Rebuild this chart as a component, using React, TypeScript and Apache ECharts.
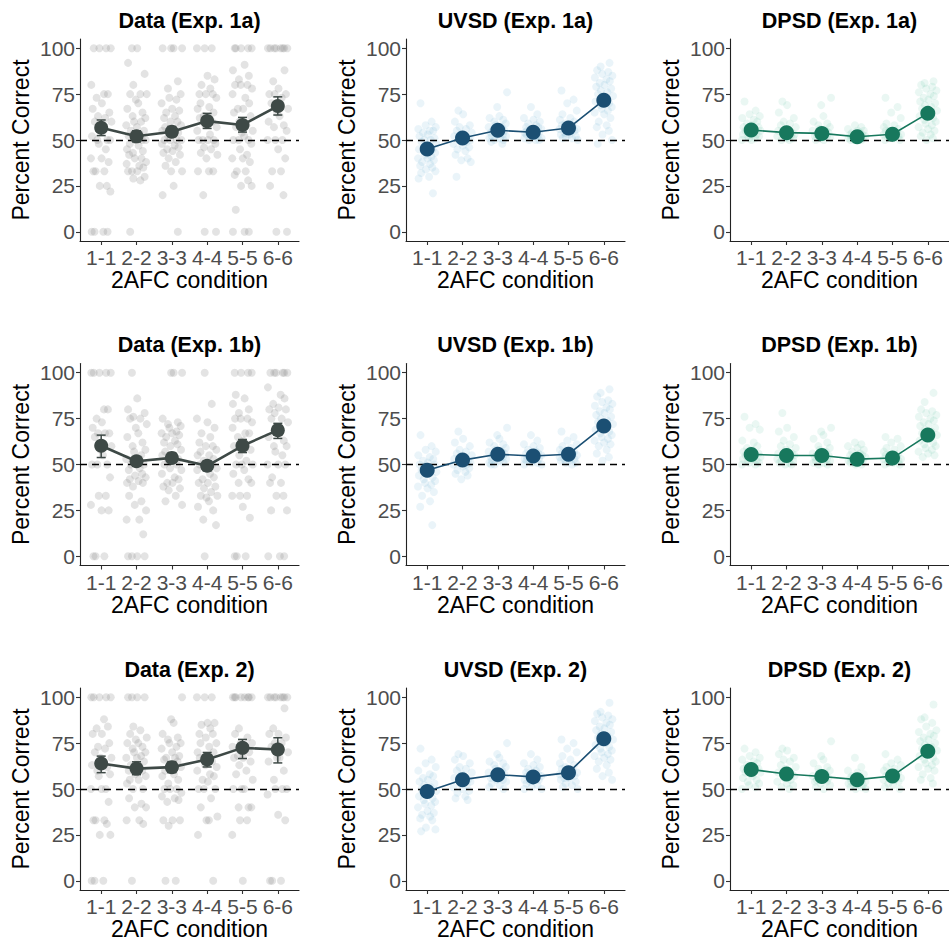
import React, { useEffect, useRef } from "react";
import * as echarts from "echarts";

// ---------- text ----------
const CATEGORIES = ["1-1", "2-2", "3-3", "4-4", "5-5", "6-6"];
const Y_TICKS = [0, 25, 50, 75, 100];
const X_TITLE = "2AFC condition";
const Y_TITLE = "Percent Correct";
const TITLES = [
  "Data (Exp. 1a)", "UVSD (Exp. 1a)", "DPSD (Exp. 1a)",
  "Data (Exp. 1b)", "UVSD (Exp. 1b)", "DPSD (Exp. 1b)",
  "Data (Exp. 2)", "UVSD (Exp. 2)", "DPSD (Exp. 2)",
];

// ---------- means & error bars ----------
const DATA_1A_MEAN = [56.7, 52.0, 54.5, 60.3, 58.2, 68.5];
const DATA_1A_LO = [52.4, 49.0, 51.8, 56.3, 54.3, 63.6];
const DATA_1A_HI = [60.9, 55.0, 57.4, 64.5, 62.3, 73.5];
const DATA_1B_MEAN = [60.2, 51.8, 53.6, 49.3, 60.2, 68.7];
const DATA_1B_LO = [53.8, 49.3, 51.1, 46.5, 56.5, 64.2];
const DATA_1B_HI = [66.0, 54.2, 56.1, 52.0, 63.6, 72.4];
const DATA_2_MEAN = [63.9, 61.1, 61.9, 66.1, 72.4, 71.5];
const DATA_2_LO = [58.9, 57.8, 58.9, 62.0, 66.6, 64.2];
const DATA_2_HI = [67.9, 64.8, 64.9, 69.9, 77.0, 77.9];

const UVSD_1A_MEAN = [45.1, 51.1, 55.3, 54.2, 56.5, 71.7];
const UVSD_1B_MEAN = [46.9, 52.4, 55.6, 54.6, 55.6, 70.9];
const UVSD_2_MEAN = [48.7, 55.1, 57.8, 56.6, 58.9, 77.4];
const DPSD_1A_MEAN = [55.4, 54.0, 53.6, 51.8, 53.1, 64.5];
const DPSD_1B_MEAN = [55.5, 54.9, 54.9, 52.9, 53.5, 66.0];
const DPSD_2_MEAN = [60.6, 58.2, 56.8, 55.1, 57.1, 70.6];

// ---------- individual participants (per condition) ----------
const DATA_1A_POINTS = [
  [100, 100, 100, 100, 80, 75, 75, 73, 70, 67, 65, 63, 62, 60, 60, 58, 55, 52, 50, 50, 50, 48, 45, 40, 40, 38, 33, 33, 33, 25, 25, 22, 0, 0, 0, 0],
  [100, 100, 92, 86, 80, 75, 75, 75, 72, 70, 67, 65, 63, 62, 60, 60, 58, 57, 55, 55, 53, 52, 50, 50, 50, 48, 47, 45, 44, 43, 42, 40, 40, 38, 37, 36, 35, 33, 33, 33, 30, 29, 28, 0],
  [100, 100, 100, 100, 82, 78, 75, 73, 72, 70, 67, 66, 65, 63, 62, 60, 60, 58, 57, 55, 55, 54, 52, 50, 50, 50, 50, 48, 47, 46, 45, 44, 43, 42, 40, 38, 36, 33, 33, 25, 20, 0],
  [100, 100, 100, 85, 83, 80, 78, 75, 75, 75, 73, 70, 68, 67, 65, 63, 62, 60, 58, 57, 55, 53, 50, 50, 50, 50, 48, 46, 45, 43, 42, 40, 33, 33, 33, 20, 0, 0],
  [100, 100, 100, 100, 100, 91, 88, 85, 83, 80, 80, 80, 78, 75, 73, 70, 67, 67, 65, 63, 60, 58, 57, 55, 54, 52, 50, 50, 50, 48, 45, 42, 40, 40, 38, 33, 33, 31, 28, 25, 25, 12, 0, 0, 0],
  [100, 100, 100, 100, 100, 100, 100, 100, 88, 82, 78, 75, 75, 75, 73, 70, 67, 65, 63, 60, 58, 57, 55, 50, 50, 50, 45, 40, 33, 33, 25, 20, 0, 0],
];
const DATA_1B_POINTS = [
  [100, 100, 100, 100, 100, 80, 80, 75, 73, 70, 67, 67, 67, 65, 60, 58, 55, 50, 50, 50, 43, 33, 33, 28, 25, 25, 0, 0, 0],
  [100, 86, 80, 78, 76, 75, 75, 72, 70, 67, 65, 62, 60, 58, 57, 55, 53, 52, 50, 50, 48, 47, 45, 44, 43, 42, 41, 40, 40, 38, 33, 30, 28, 25, 20, 20, 12, 0, 0, 0, 0],
  [100, 100, 100, 75, 73, 72, 71, 70, 68, 67, 67, 66, 65, 63, 62, 61, 60, 58, 57, 55, 55, 53, 52, 50, 50, 48, 47, 45, 43, 42, 40, 40, 38, 37, 36, 33, 30, 28],
  [100, 83, 75, 73, 70, 67, 65, 62, 60, 60, 58, 57, 55, 55, 53, 52, 50, 50, 50, 48, 47, 45, 43, 42, 40, 40, 38, 37, 35, 33, 33, 32, 30, 27, 25, 20, 17, 0],
  [100, 100, 100, 100, 88, 86, 83, 80, 78, 75, 75, 75, 73, 70, 67, 67, 65, 63, 60, 58, 55, 52, 50, 50, 50, 47, 45, 42, 40, 40, 33, 33, 33, 27, 21, 0, 0, 0],
  [100, 100, 100, 100, 100, 100, 92, 88, 86, 83, 81, 80, 80, 78, 75, 75, 73, 70, 67, 65, 63, 60, 60, 57, 55, 50, 50, 50, 43, 40, 40, 33, 33, 25, 25, 0, 0, 0],
];
const DATA_2_POINTS = [
  [100, 100, 100, 100, 100, 88, 84, 83, 80, 80, 75, 73, 72, 70, 67, 67, 65, 63, 62, 60, 58, 57, 50, 50, 50, 43, 33, 33, 33, 31, 25, 25, 0, 0, 0],
  [100, 100, 100, 100, 84, 82, 80, 78, 77, 75, 75, 73, 72, 70, 70, 68, 67, 67, 65, 63, 62, 60, 60, 58, 57, 55, 55, 53, 50, 50, 45, 42, 40, 40, 33, 33, 31, 0],
  [100, 88, 86, 80, 78, 77, 75, 75, 73, 72, 70, 68, 67, 67, 66, 65, 63, 62, 60, 58, 57, 55, 53, 50, 50, 50, 48, 46, 45, 44, 43, 33, 33, 33, 30, 0, 0],
  [100, 100, 100, 86, 86, 85, 83, 80, 80, 78, 75, 75, 73, 70, 70, 67, 67, 65, 63, 62, 60, 58, 57, 55, 54, 50, 50, 50, 45, 40, 35, 33, 33, 25, 0],
  [100, 100, 100, 100, 100, 100, 100, 100, 83, 80, 78, 75, 75, 73, 72, 70, 68, 67, 67, 65, 63, 60, 58, 55, 50, 50, 50, 40, 40, 40, 33, 33, 25, 0],
  [100, 100, 100, 100, 100, 100, 100, 100, 94, 83, 80, 80, 78, 75, 75, 73, 70, 67, 67, 65, 60, 55, 50, 50, 50, 47, 36, 33, 0, 0, 0],
];
const UVSD_1A_POINTS = [
  [70, 60, 58, 57, 56, 55, 55, 54, 53, 52, 51, 50, 50, 49, 48, 47, 46, 45, 45, 44, 43, 42, 41, 40, 40, 39, 38, 37, 36, 35, 34, 33, 32, 30, 29, 21],
  [66, 64, 60, 58, 57, 56, 55, 54, 53, 52, 52, 51, 51, 50, 50, 49, 48, 47, 46, 45, 44, 42, 40, 39, 38, 30],
  [76, 68, 63, 62, 61, 60, 59, 58, 57, 57, 56, 55, 55, 54, 54, 53, 53, 52, 52, 51, 51, 50, 50, 49, 48],
  [68, 64, 62, 61, 60, 59, 58, 57, 57, 56, 56, 55, 55, 54, 54, 53, 53, 52, 52, 51, 51, 50, 50, 50],
  [77, 72, 70, 66, 64, 62, 61, 60, 59, 58, 57, 57, 56, 56, 55, 55, 54, 53, 53, 52, 52, 51, 51, 50],
  [92, 90, 88, 87, 86, 85, 84, 83, 82, 81, 80, 79, 78, 77, 76, 75, 74, 73, 72, 71, 70, 69, 68, 67, 66, 65, 64, 62, 60, 58, 57, 55, 53, 50, 48],
];
const UVSD_1B_POINTS = [
  [66, 60, 58, 57, 55, 54, 53, 52, 51, 50, 50, 49, 48, 47, 46, 45, 45, 44, 43, 42, 41, 40, 39, 38, 37, 35, 33, 30, 27, 17],
  [68, 64, 62, 60, 58, 57, 56, 55, 54, 53, 53, 52, 52, 51, 51, 50, 50, 49, 48, 47, 46, 45, 44, 42],
  [70, 66, 64, 62, 61, 60, 59, 58, 57, 57, 56, 56, 55, 55, 54, 54, 53, 53, 52, 52, 51, 51, 50, 50],
  [66, 63, 61, 60, 59, 58, 57, 56, 56, 55, 55, 54, 54, 53, 53, 52, 52, 51, 51, 50, 50],
  [68, 65, 63, 61, 60, 59, 58, 57, 57, 56, 56, 55, 55, 54, 54, 53, 53, 52, 52, 51, 51, 50],
  [91, 89, 87, 85, 84, 83, 82, 81, 80, 79, 78, 77, 76, 75, 74, 73, 72, 71, 70, 69, 68, 67, 66, 65, 64, 63, 62, 61, 60, 58, 56, 54, 52],
];
const UVSD_2_POINTS = [
  [72, 66, 64, 62, 60, 58, 57, 56, 55, 54, 53, 52, 51, 50, 49, 48, 47, 46, 45, 44, 43, 42, 41, 40, 38, 37, 36, 35, 34, 33, 29, 28, 27],
  [69, 68, 66, 64, 62, 61, 60, 59, 58, 57, 56, 55, 55, 54, 53, 52, 51, 50, 49, 48, 46, 45, 44],
  [75, 69, 67, 65, 64, 63, 62, 61, 60, 59, 58, 58, 57, 57, 56, 55, 55, 54, 53, 52, 51, 50],
  [69, 66, 64, 63, 62, 61, 60, 59, 58, 58, 57, 57, 56, 55, 55, 54, 53, 52, 51, 50, 50],
  [77, 75, 72, 70, 68, 66, 64, 63, 62, 61, 60, 60, 59, 58, 58, 57, 56, 56, 55, 54, 53, 52, 51, 50],
  [97, 92, 91, 90, 89, 88, 87, 86, 85, 84, 83, 82, 81, 80, 79, 78, 77, 76, 75, 74, 73, 72, 71, 70, 69, 68, 67, 66, 65, 63, 61, 59, 57, 55],
];
const DPSD_1A_POINTS = [
  [71, 66, 64, 63, 62, 61, 60, 59, 58, 57, 57, 56, 56, 55, 55, 54, 54, 53, 53, 52, 52, 51, 51, 50, 50],
  [71, 69, 65, 62, 60, 59, 58, 57, 56, 55, 55, 54, 54, 53, 53, 52, 52, 51, 51, 50, 50],
  [73, 69, 63, 60, 59, 58, 57, 56, 55, 55, 54, 54, 53, 53, 52, 52, 51, 51, 50, 50],
  [58, 57, 56, 55, 55, 54, 54, 53, 53, 52, 52, 52, 51, 51, 51, 50, 50, 50],
  [73, 68, 65, 62, 59, 58, 57, 56, 55, 55, 54, 54, 53, 53, 52, 52, 51, 51, 50, 50],
  [82, 81, 80, 79, 78, 77, 76, 75, 74, 73, 72, 71, 70, 69, 68, 67, 66, 65, 64, 63, 62, 61, 60, 59, 58, 57, 56, 55, 54, 53, 52, 51, 50],
];
const DPSD_1B_POINTS = [
  [76, 72, 70, 69, 63, 62, 60, 59, 58, 57, 56, 56, 55, 55, 54, 54, 53, 53, 52, 52, 51, 51, 50, 50],
  [78, 70, 68, 65, 63, 61, 60, 59, 58, 57, 56, 56, 55, 55, 54, 54, 53, 53, 52, 52, 51, 51, 50, 50],
  [70, 68, 66, 64, 62, 60, 59, 58, 57, 56, 56, 55, 55, 54, 54, 53, 53, 52, 52, 51, 51, 50, 50],
  [62, 61, 60, 59, 58, 57, 56, 55, 55, 54, 54, 53, 53, 52, 52, 51, 51, 50, 50],
  [65, 64, 62, 60, 59, 58, 57, 56, 55, 55, 54, 54, 53, 53, 52, 52, 51, 51, 50, 50],
  [89, 84, 80, 79, 78, 77, 76, 75, 74, 73, 72, 71, 70, 69, 68, 67, 66, 65, 64, 63, 62, 61, 60, 59, 58, 57, 56, 55, 54],
];
const DPSD_2_POINTS = [
  [72, 70, 68, 67, 66, 65, 64, 63, 62, 61, 61, 60, 60, 59, 59, 58, 57, 56, 55, 54, 53, 52, 51, 50],
  [72, 71, 69, 67, 66, 65, 63, 62, 61, 60, 59, 58, 58, 57, 56, 55, 54, 53, 52, 51, 50],
  [76, 68, 66, 64, 62, 61, 60, 59, 58, 57, 56, 56, 55, 55, 54, 54, 53, 52, 51, 50],
  [67, 62, 60, 59, 58, 57, 56, 56, 55, 55, 54, 54, 53, 53, 52, 52, 51, 51, 50, 50],
  [69, 66, 64, 63, 62, 61, 60, 59, 58, 57, 57, 56, 56, 55, 55, 54, 53, 52, 51, 50],
  [96, 89, 88, 86, 84, 82, 81, 80, 79, 78, 77, 76, 75, 74, 73, 72, 71, 70, 69, 68, 67, 66, 65, 64, 63, 62, 61, 60, 58, 56, 55, 53],
];

// fixed horizontal jitter pattern (category units)
const JITTER = [-0.21, 0.14, -0.05, 0.27, -0.28, 0.08, 0.19, -0.13, 0.02, -0.24, 0.23, -0.09, 0.11, -0.18, 0.29, -0.02, 0.05, -0.26, 0.17, -0.11, 0.25, -0.07, 0.13, -0.29, 0.01, 0.21, -0.16, 0.09, -0.22, 0.16, -0.04, 0.26, -0.19, 0.06, -0.27, 0.18, -0.1];

// ---------- styles ----------
const FONT = 'Arial, "Liberation Sans", Helvetica, sans-serif';
const STYLE = {
  data: { main: "#3e4946", point: "#8c8c8c", pointOpacity: 0.24, lineWidth: 2.6, dot: 14, jitter: 1.0 },
  uvsd: { main: "#1b4f73", point: "#6baed6", pointOpacity: 0.14, lineWidth: 1.6, dot: 15, jitter: 0.9 },
  dpsd: { main: "#17785d", point: "#5fc2a2", pointOpacity: 0.13, lineWidth: 1.6, dot: 15, jitter: 0.9 },
};

type Panel = {
  title: string;
  kind: "data" | "uvsd" | "dpsd";
  points: number[][];
  mean: number[];
  lo?: number[];
  hi?: number[];
};

const PANELS: Panel[] = [
  { title: TITLES[0], kind: "data", points: DATA_1A_POINTS, mean: DATA_1A_MEAN, lo: DATA_1A_LO, hi: DATA_1A_HI },
  { title: TITLES[1], kind: "uvsd", points: UVSD_1A_POINTS, mean: UVSD_1A_MEAN },
  { title: TITLES[2], kind: "dpsd", points: DPSD_1A_POINTS, mean: DPSD_1A_MEAN },
  { title: TITLES[3], kind: "data", points: DATA_1B_POINTS, mean: DATA_1B_MEAN, lo: DATA_1B_LO, hi: DATA_1B_HI },
  { title: TITLES[4], kind: "uvsd", points: UVSD_1B_POINTS, mean: UVSD_1B_MEAN },
  { title: TITLES[5], kind: "dpsd", points: DPSD_1B_POINTS, mean: DPSD_1B_MEAN },
  { title: TITLES[6], kind: "data", points: DATA_2_POINTS, mean: DATA_2_MEAN, lo: DATA_2_LO, hi: DATA_2_HI },
  { title: TITLES[7], kind: "uvsd", points: UVSD_2_POINTS, mean: UVSD_2_MEAN },
  { title: TITLES[8], kind: "dpsd", points: DPSD_2_POINTS, mean: DPSD_2_MEAN },
];

const COL_LEFT = [80, 406, 730];
const ROW_TOP = [39, 363.5, 688];
const GRID_W = 219;
const GRID_H = 202;
const X_TICKS = [1, 2, 3, 4, 5, 6];

function buildOption() {
  const grid: any[] = [];
  const xAxis: any[] = [];
  const yAxis: any[] = [];
  const series: any[] = [];
  const graphic: any[] = [];

  PANELS.forEach((p, k) => {
    const r = Math.floor(k / 3);
    const c = k % 3;
    const st = STYLE[p.kind];
    grid.push({ left: COL_LEFT[c], top: ROW_TOP[r], width: GRID_W, height: GRID_H, containLabel: false });
    xAxis.push({
      gridIndex: k,
      type: "value",
      min: 0.4,
      max: 6.6,
      splitLine: { show: false },
      axisLine: { show: true, onZero: false, lineStyle: { color: "#222", width: 1.1 } },
      axisTick: { show: true, customValues: X_TICKS, length: 4, lineStyle: { color: "#333", width: 1.1 } },
      axisLabel: {
        customValues: X_TICKS,
        formatter: (v: number) => CATEGORIES[Math.round(v) - 1] ?? "",
        color: "#4d4d4d",
        fontSize: 21,
        fontFamily: FONT,
        margin: 6,
      },
      name: X_TITLE,
      nameLocation: "middle",
      nameGap: 24,
      nameTextStyle: { fontSize: 23, color: "#000", fontFamily: FONT },
    });
    yAxis.push({
      gridIndex: k,
      type: "value",
      min: -5,
      max: 105,
      splitLine: { show: false },
      axisLine: { show: true, onZero: false, lineStyle: { color: "#222", width: 1.1 } },
      axisTick: { show: true, customValues: Y_TICKS, length: 4, lineStyle: { color: "#333", width: 1.1 } },
      axisLabel: { customValues: Y_TICKS, color: "#4d4d4d", fontSize: 21, fontFamily: FONT, margin: 5 },
      name: Y_TITLE,
      nameLocation: "middle",
      nameGap: 48,
      nameTextStyle: { fontSize: 23, color: "#000", fontFamily: FONT },
    });

    const pts: number[][] = [];
    p.points.forEach((vals, ci) => {
      vals.forEach((v, i) => {
        const j = JITTER[(i + ci * 7) % JITTER.length] * st.jitter;
        pts.push([ci + 1 + j, v]);
      });
    });
    series.push({
      type: "scatter",
      xAxisIndex: k,
      yAxisIndex: k,
      data: pts,
      symbol: "circle",
      symbolSize: 8,
      silent: true,
      itemStyle: { color: st.point, opacity: st.pointOpacity },
      z: 1,
    });

    if (p.lo && p.hi) {
      const eb = p.mean.map((_, i) => [i + 1, p.lo![i], p.hi![i]]);
      const col = st.main;
      series.push({
        type: "custom",
        xAxisIndex: k,
        yAxisIndex: k,
        data: eb,
        encode: { x: 0, y: [1, 2] },
        silent: true,
        z: 2,
        renderItem: (params: any, api: any) => {
          const x = api.value(0);
          const a = api.coord([x, api.value(1)]);
          const b = api.coord([x, api.value(2)]);
          const w = 4.5;
          const style = { stroke: col, lineWidth: 1.5, fill: null };
          return {
            type: "group",
            children: [
              { type: "line", shape: { x1: a[0], y1: a[1], x2: b[0], y2: b[1] }, style },
              { type: "line", shape: { x1: a[0] - w, y1: a[1], x2: a[0] + w, y2: a[1] }, style },
              { type: "line", shape: { x1: b[0] - w, y1: b[1], x2: b[0] + w, y2: b[1] }, style },
            ],
          };
        },
      });
    }

    series.push({
      type: "line",
      xAxisIndex: k,
      yAxisIndex: k,
      data: p.mean.map((m, i) => [i + 1, m]),
      symbol: "circle",
      symbolSize: st.dot,
      showSymbol: true,
      silent: true,
      lineStyle: { color: st.main, width: st.lineWidth },
      itemStyle: { color: st.main, opacity: 1 },
      z: 3,
      markLine: {
        silent: true,
        symbol: ["none", "none"],
        label: { show: false },
        lineStyle: { color: "#000", type: [7, 5], width: 1.3 },
        data: [{ yAxis: 50 }],
        z: 2,
      },
    });

    graphic.push({
      type: "text",
      x: COL_LEFT[c] + GRID_W / 2,
      y: ROW_TOP[r] - 18.5,
      silent: true,
      style: {
        text: p.title,
        textAlign: "center",
        textVerticalAlign: "middle",
        fontSize: 21.5,
        fontWeight: "bold",
        fontFamily: FONT,
        fill: "#000",
      },
    });
  });

  return {
    animation: false,
    backgroundColor: "#ffffff",
    textStyle: { fontFamily: FONT },
    grid,
    xAxis,
    yAxis,
    series,
    graphic,
  };
}

export default function App() {
  const ref = useRef<HTMLDivElement>(null);
  useEffect(() => {
    if (!ref.current) return;
    const chart = echarts.init(ref.current, undefined, { renderer: "svg" });
    chart.setOption(buildOption() as any);
    return () => chart.dispose();
  }, []);
  return (
    <div
      ref={ref}
      style={{ position: "absolute", left: 0, top: 0, width: 949, height: 942, background: "#fff" }}
    />
  );
}
